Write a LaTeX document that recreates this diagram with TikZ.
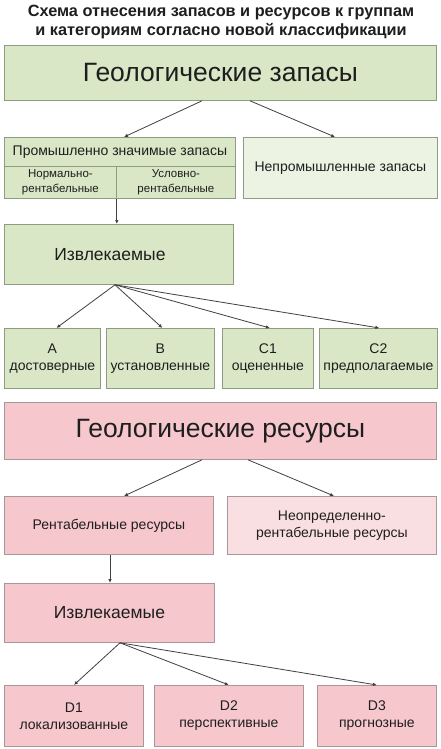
\documentclass[tikz,border=0pt]{standalone}
\usepackage{fontspec}
\setmainfont{Liberation Sans}
\usetikzlibrary{arrows.meta,calc}
\definecolor{gfill}{HTML}{D9E7C6}
\definecolor{glight}{HTML}{ECF3E2}
\definecolor{gline}{HTML}{8E9C82}
\definecolor{pfill}{HTML}{F6C8CD}
\definecolor{plight}{HTML}{FADFE2}
\definecolor{pline}{HTML}{A8979A}
\definecolor{arr}{HTML}{404040}
\definecolor{txt}{HTML}{1E1E1E}
\begin{document}
\begin{tikzpicture}[x=1pt,y=-1pt,
  box/.style={draw, line width=0.8pt, anchor=north west, inner sep=0pt, align=center, text=txt},
  gbox/.style={box, fill=gfill, draw=gline},
  glbox/.style={box, fill=glight, draw=gline},
  pbox/.style={box, fill=pfill, draw=pline},
  plbox/.style={box, fill=plight, draw=pline},
  huge/.style={font=\fontsize{26.5}{30}\selectfont},
  mid/.style={font=\fontsize{17.5}{21}\selectfont},
  norm/.style={font=\fontsize{14}{17}\selectfont},
  small/.style={font=\fontsize{11.5}{14.5}\selectfont},
  conn/.style={draw=arr, line width=0.8pt, -{Latex[length=4pt,width=3.5pt]}},
]
\useasboundingbox[fill=white] (0,0) rectangle (441,749);

\node[font=\bfseries\fontsize{16.3}{19}\selectfont, align=center, text=txt] (title) at (221,22)
  {Схема отнесения запасов и ресурсов к группам\\и категориям согласно новой классификации};

% green part
\node[gbox, huge, minimum width=432, minimum height=55] (gz) at (4,45) {Геологические запасы};
\node[gbox, norm, minimum width=231, minimum height=29] (hdr) at (4,137) {Промышленно значимые запасы};
\node[gbox, small, minimum width=112, minimum height=32] (c1) at (4,166) {Нормально-\\рентабельные};
\node[gbox, small, minimum width=119, minimum height=32] (c2) at (116,166) {Условно-\\рентабельные};
\node[glbox, norm, minimum width=194, minimum height=61] (nepr) at (243,137) {Непромышленные запасы};
\node[gbox, mid, minimum width=229, minimum height=60] (izv) at (4,224) {\hspace*{-18pt}Извлекаемые};
\node[gbox, norm, minimum width=96, minimum height=60] (a) at (4,328) {A\\достоверные};
\node[gbox, norm, minimum width=108, minimum height=60] (b) at (106,328) {B\\установленные};
\node[gbox, norm, minimum width=91, minimum height=60] (cc1) at (222,328) {C1\\оцененные};
\node[gbox, norm, minimum width=118, minimum height=60] (cc2) at (319,328) {C2\\предполагаемые};

\draw[conn] ($(gz.south west)+(198,0)$) -- ($(hdr.north west)+(120,0)$);
\draw[conn] ($(gz.south west)+(246,0)$) -- ($(nepr.north west)+(92,0)$);
\draw[conn] (c1.south east) -- (izv.north -| c1.south east);
\draw[conn] ($(izv.south west)+(111,0)$) -- ($(a.north)+(4,0)$);
\draw[conn] ($(izv.south west)+(111,0)$) -- ($(b.north)+(2,0)$);
\draw[conn] ($(izv.south west)+(111,0)$) -- ($(cc1.north)+(2,0)$);
\draw[conn] ($(izv.south west)+(111,0)$) -- ($(cc2.north)+(1,0)$);

% pink part
\node[pbox, huge, minimum width=432, minimum height=57] (gr) at (4,402) {Геологические ресурсы};
\node[pbox, norm, minimum width=209, minimum height=58] (rent) at (4,496) {Рентабельные ресурсы};
\node[plbox, norm, minimum width=209, minimum height=58] (neop) at (227,496) {Неопределенно-\\рентабельные ресурсы};
\node[pbox, mid, minimum width=210, minimum height=59] (izv2) at (4,583) {Извлекаемые};
\node[pbox, norm, minimum width=139, minimum height=61] (d1) at (4,685) {D1\\локализованные};
\node[pbox, norm, minimum width=149, minimum height=61] (d2) at (154,685) {D2\\перспективные};
\node[pbox, norm, minimum width=119, minimum height=61] (d3) at (317,685) {D3\\прогнозные};

\draw[conn] ($(gr.south west)+(198,0)$) -- ($(rent.north west)+(120,0)$);
\draw[conn] ($(gr.south west)+(244,0)$) -- ($(neop.north west)+(107,0)$);
\draw[conn] ($(rent.south west)+(106,0)$) -- ($(izv2.north west)+(106,0)$);
\draw[conn] ($(izv2.south west)+(116,0)$) -- (d1.north);
\draw[conn] ($(izv2.south west)+(116,0)$) -- (d2.north);
\draw[conn] ($(izv2.south west)+(116,0)$) -- (d3.north);
\end{tikzpicture}
\end{document}
